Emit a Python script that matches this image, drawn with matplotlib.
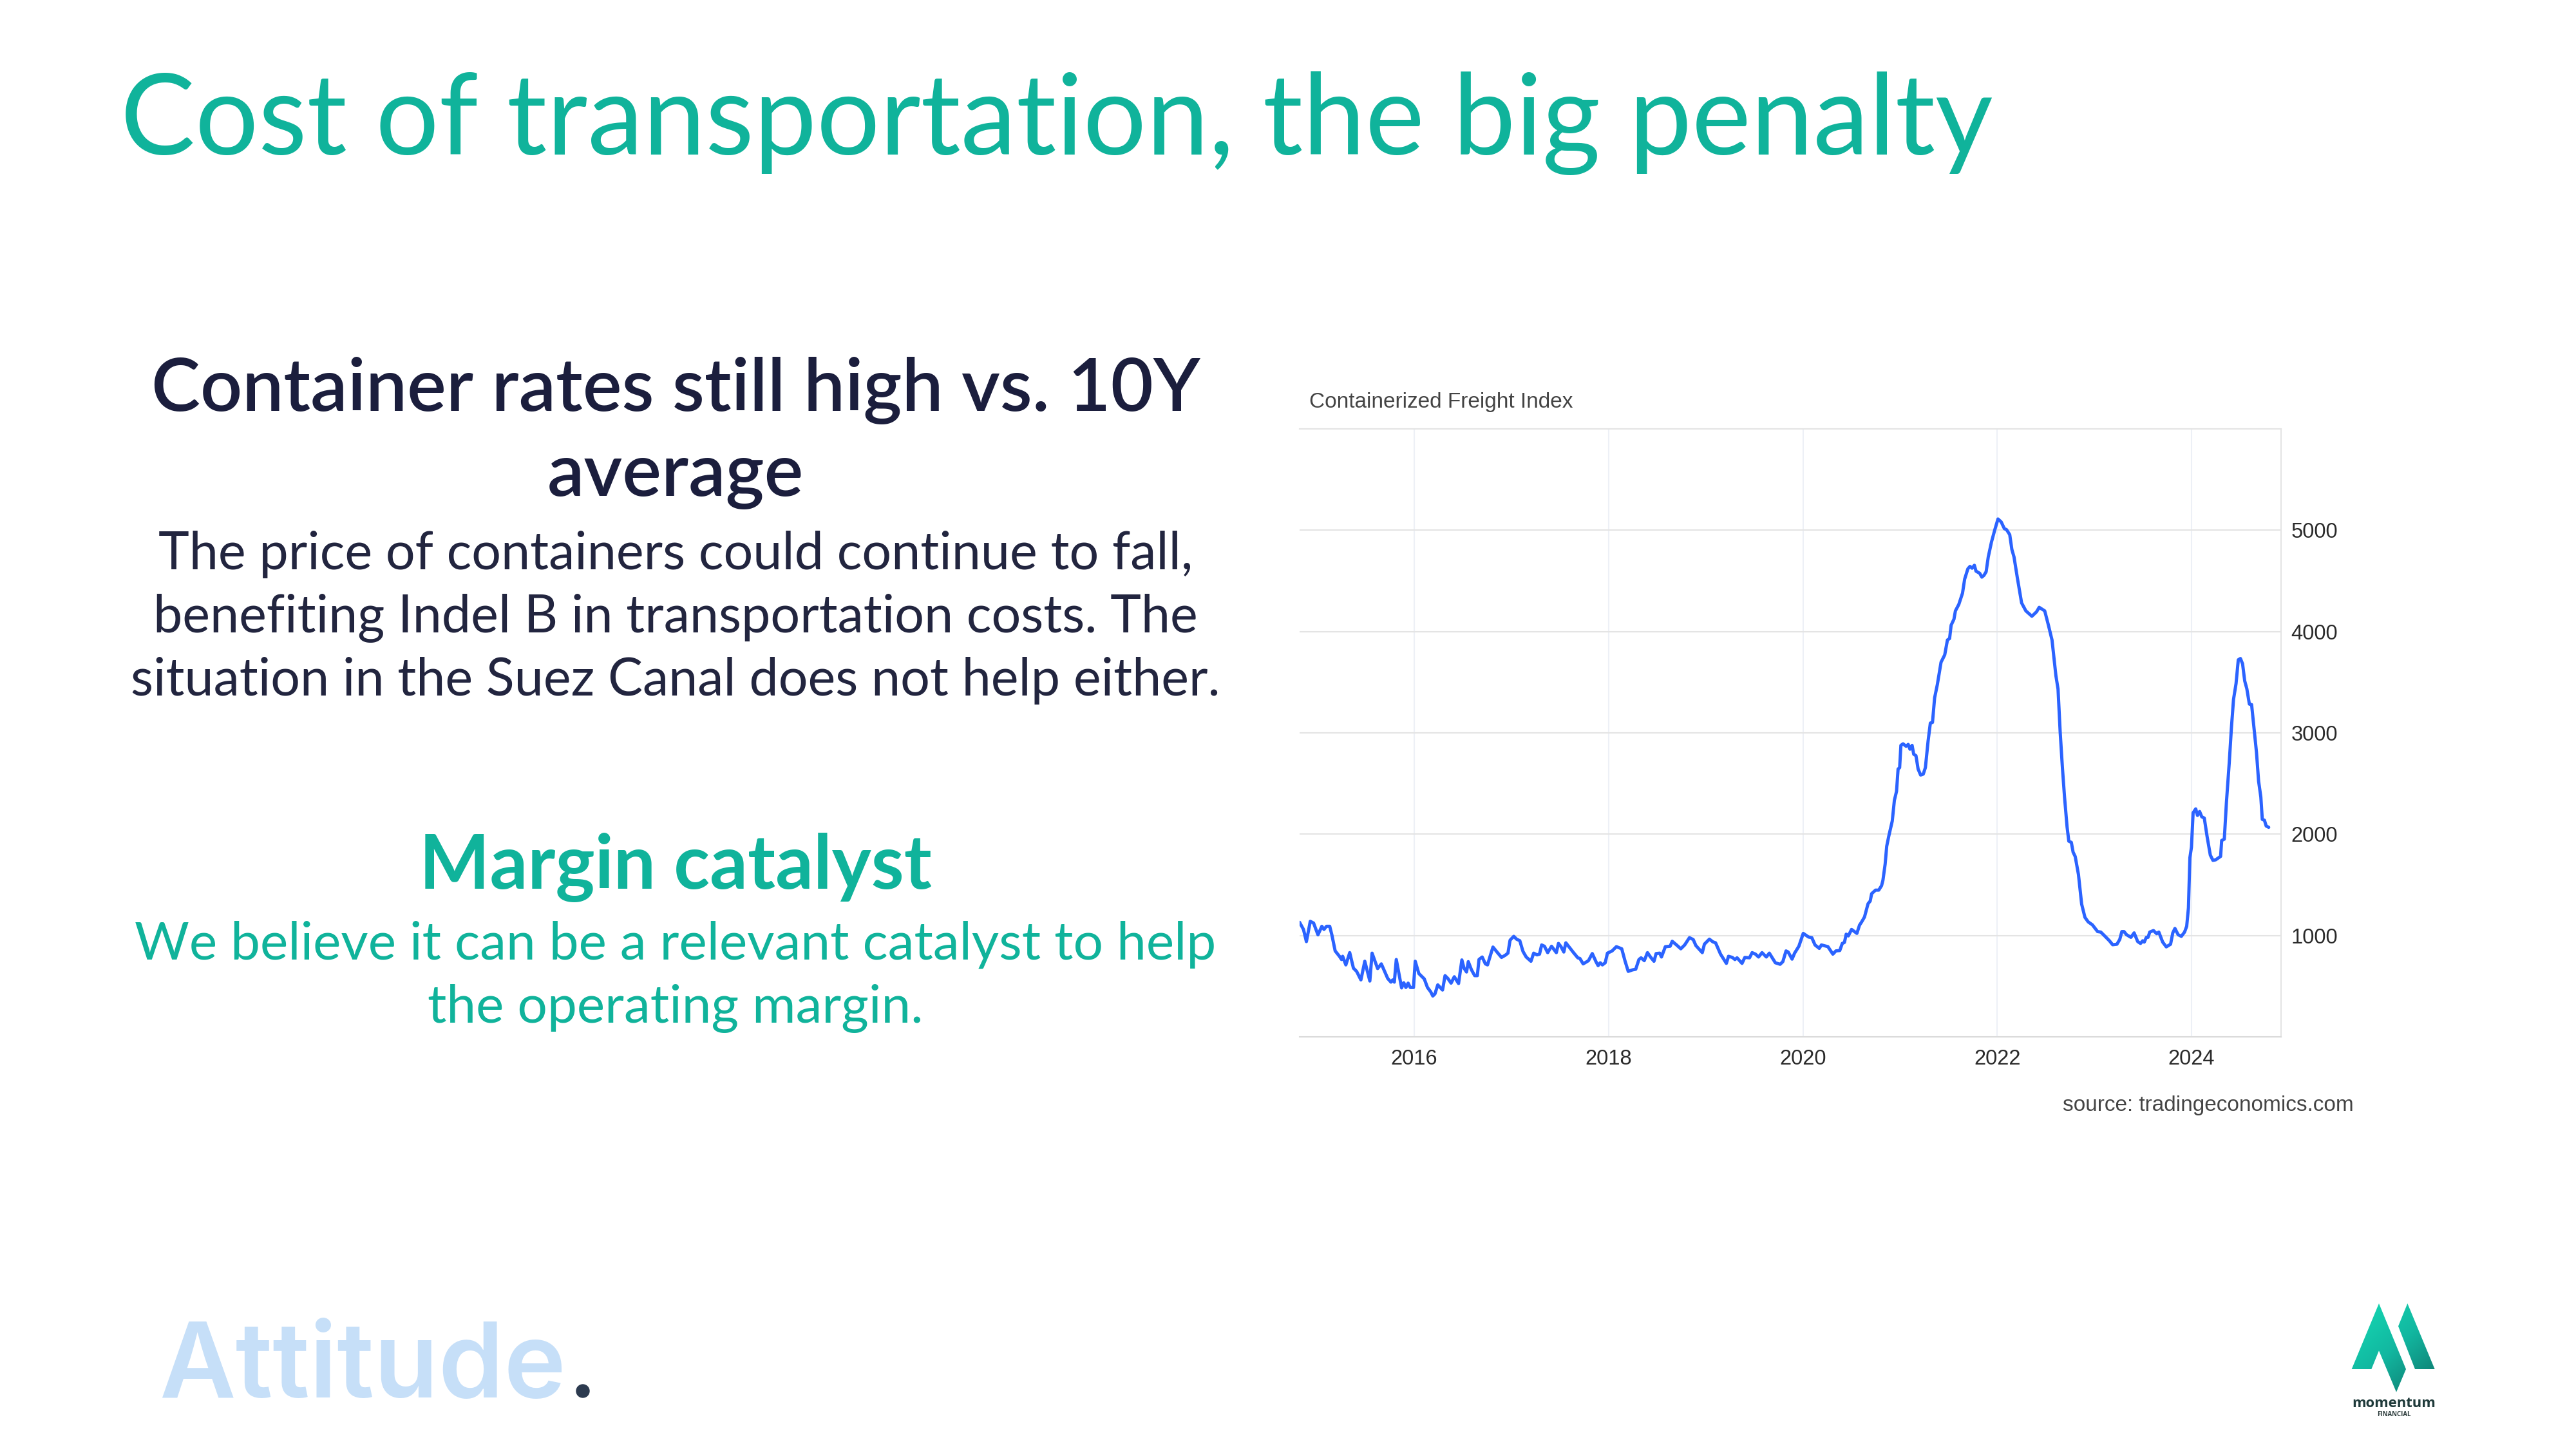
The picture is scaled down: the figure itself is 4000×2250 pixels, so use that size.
import matplotlib
matplotlib.use("Agg")
import matplotlib.pyplot as plt
import numpy as np
from matplotlib.patches import Polygon, Circle
from matplotlib.colors import LinearSegmentedColormap

# ---------------- data ----------------
years = [
    2014.82, 2014.86, 2014.89, 2014.93, 2014.964, 2015.009, 2015.049, 2015.071, 2015.097, 2015.130,
    2015.152, 2015.186, 2015.230, 2015.252, 2015.263, 2015.296, 2015.336, 2015.374, 2015.407, 2015.451,
    2015.491, 2015.543, 2015.566, 2015.594, 2015.623, 2015.661, 2015.727, 2015.760, 2015.778, 2015.795,
    2015.815, 2015.870, 2015.892, 2015.914, 2015.937, 2015.959, 2015.992, 2016.010, 2016.047, 2016.103,
    2016.136, 2016.169, 2016.191, 2016.213, 2016.242, 2016.291, 2016.317, 2016.346, 2016.379, 2016.412,
    2016.456, 2016.490, 2016.512, 2016.538, 2016.556, 2016.589, 2016.622, 2016.649, 2016.666, 2016.699,
    2016.732, 2016.754, 2016.777, 2016.810, 2016.861, 2016.898, 2016.936, 2016.964, 2016.986, 2017.024,
    2017.053, 2017.086, 2017.119, 2017.152, 2017.201, 2017.229, 2017.263, 2017.289, 2017.311, 2017.340,
    2017.373, 2017.413, 2017.462, 2017.484, 2017.510, 2017.539, 2017.560, 2017.605, 2017.639, 2017.683,
    2017.705, 2017.738, 2017.793, 2017.832, 2017.870, 2017.892, 2017.914, 2017.936, 2017.965, 2017.988,
    2018.036, 2018.080, 2018.135, 2018.168, 2018.202, 2018.246, 2018.279, 2018.312, 2018.334, 2018.367,
    2018.400, 2018.434, 2018.467, 2018.489, 2018.526, 2018.544, 2018.584, 2018.633, 2018.655, 2018.699,
    2018.743, 2018.783, 2018.832, 2018.871, 2018.898, 2018.964, 2018.986, 2019.037, 2019.074, 2019.101,
    2019.152, 2019.212, 2019.234, 2019.273, 2019.300, 2019.322, 2019.373, 2019.402, 2019.450, 2019.477,
    2019.512, 2019.543, 2019.579, 2019.623, 2019.654, 2019.716, 2019.765, 2019.793, 2019.826, 2019.848,
    2019.888, 2019.914, 2019.958, 2020.003, 2020.058, 2020.091, 2020.124, 2020.168, 2020.190, 2020.257,
    2020.308, 2020.339, 2020.379, 2020.405, 2020.427, 2020.445, 2020.467, 2020.500, 2020.555, 2020.582,
    2020.604, 2020.633, 2020.670, 2020.692, 2020.707, 2020.747, 2020.780, 2020.809, 2020.823, 2020.846,
    2020.862, 2020.884, 2020.919, 2020.941, 2020.963, 2020.979, 2020.995, 2021.008, 2021.030, 2021.061,
    2021.083, 2021.101, 2021.123, 2021.140, 2021.163, 2021.185, 2021.211, 2021.238, 2021.260, 2021.288,
    2021.311, 2021.333, 2021.355, 2021.383, 2021.421, 2021.459, 2021.487, 2021.509, 2021.525, 2021.554,
    2021.569, 2021.604, 2021.642, 2021.664, 2021.697, 2021.719, 2021.741, 2021.764, 2021.781, 2021.819,
    2021.841, 2021.863, 2021.885, 2021.907, 2021.940, 2021.973, 2022.007, 2022.040, 2022.073, 2022.095,
    2022.128, 2022.150, 2022.172, 2022.206, 2022.250, 2022.294, 2022.356, 2022.404, 2022.431, 2022.488,
    2022.526, 2022.563, 2022.603, 2022.625, 2022.647, 2022.670, 2022.692, 2022.718, 2022.736, 2022.762,
    2022.780, 2022.802, 2022.835, 2022.868, 2022.902, 2022.935, 2022.979, 2023.032, 2023.065, 2023.109,
    2023.154, 2023.187, 2023.231, 2023.260, 2023.282, 2023.304, 2023.330, 2023.375, 2023.408, 2023.445,
    2023.474, 2023.496, 2023.512, 2023.534, 2023.551, 2023.569, 2023.607, 2023.640, 2023.662, 2023.702,
    2023.739, 2023.783, 2023.806, 2023.828, 2023.861, 2023.894, 2023.927, 2023.949, 2023.967, 2023.982,
    2023.998, 2024.015, 2024.042, 2024.060, 2024.082, 2024.104, 2024.130, 2024.159, 2024.192, 2024.219,
    2024.247, 2024.298, 2024.309, 2024.336, 2024.358, 2024.387, 2024.409, 2024.431, 2024.457, 2024.480,
    2024.502, 2024.524, 2024.546, 2024.568, 2024.594, 2024.617, 2024.645, 2024.667, 2024.689, 2024.712,
    2024.727, 2024.749, 2024.767, 2024.793,
]
index_values = [
    1130, 1060, 940, 1140, 1123, 1007, 1091, 1060, 1091, 1091,
    1007, 848, 795, 763, 795, 710, 831, 678, 646, 562,
    746, 551, 826, 752, 674, 720, 576, 540, 562, 540,
    763, 483, 534, 487, 530, 487, 487, 746, 625, 572,
    487, 445, 403, 424, 513, 462, 604, 576, 530, 593,
    526, 759, 678, 640, 742, 661, 604, 604, 763, 788,
    720, 710, 784, 886, 826, 784, 805, 826, 954, 992,
    964, 949, 843, 788, 746, 826, 809, 816, 907, 894,
    831, 894, 831, 922, 890, 837, 928, 873, 831, 780,
    773, 720, 752, 822, 742, 703, 731, 710, 731, 826,
    848, 890, 869, 752, 646, 661, 667, 763, 780, 752,
    831, 784, 746, 822, 826, 788, 890, 894, 943, 907,
    869, 907, 979, 960, 901, 831, 915, 964, 937, 928,
    816, 725, 795, 784, 763, 780, 725, 784, 780, 831,
    816, 788, 831, 788, 826, 731, 716, 742, 848, 837,
    767, 826, 894, 1021, 985, 979, 907, 873, 907, 890,
    816, 848, 852, 922, 932, 1013, 996, 1060, 1021, 1102,
    1134, 1182, 1314, 1340, 1413, 1448, 1448, 1492, 1545, 1706,
    1881, 1984, 2130, 2335, 2423, 2643, 2657, 2877, 2892, 2868,
    2886, 2839, 2877, 2789, 2775, 2643, 2584, 2593, 2657, 2921,
    3097, 3103, 3346, 3477, 3697, 3770, 3917, 3931, 4063, 4122,
    4204, 4268, 4379, 4517, 4619, 4643, 4625, 4654, 4596, 4575,
    4537, 4555, 4590, 4736, 4883, 5000, 5111, 5082, 5015, 5006,
    4956, 4810, 4736, 4532, 4283, 4204, 4151, 4195, 4239, 4204,
    4063, 3917, 3565, 3433, 3009, 2657, 2365, 2072, 1931, 1919,
    1823, 1779, 1603, 1310, 1179, 1135, 1105, 1039, 1034, 992,
    948, 909, 914, 961, 1039, 1039, 1008, 982, 1026, 940,
    922, 948, 935, 982, 982, 1034, 1049, 1018, 1034, 935,
    888, 914, 1026, 1070, 1008, 992, 1034, 1091, 1273, 1768,
    1872, 2211, 2250, 2185, 2224, 2172, 2159, 1977, 1794, 1742,
    1747, 1781, 1938, 1951, 2315, 2706, 3047, 3331, 3487, 3721,
    3734, 3682, 3513, 3435, 3284, 3279, 3018, 2810, 2523, 2367,
    2146, 2138, 2081, 2068,
]
x_ticks = [2016, 2018, 2020, 2022, 2024]
x_tick_labels = ["2016", "2018", "2020", "2022", "2024"]
y_ticks = [1000, 2000, 3000, 4000, 5000]
y_tick_labels = ["1000", "2000", "3000", "4000", "5000"]

title_text = "Cost of transportation, the big penalty"
sub_lines = ["Container rates still high vs. 10Y", "average"]
body_lines = ["The price of containers could continue to fall,",
              "benefiting Indel B in transportation costs. The",
              "situation in the Suez Canal does not help either."]
catalyst_title = "Margin catalyst"
catalyst_lines = ["We believe it can be a relevant catalyst to help",
                  "the operating margin."]
chart_title = "Containerized Freight Index"
source_text = "source: tradingeconomics.com"

# ---------------- figure ----------------
W, H = 4000, 2250
fig = plt.figure(figsize=(W / 100, H / 100), dpi=100)
fig.patch.set_facecolor("white")
renderer = fig.canvas.get_renderer()

# overlay axes in pixel coordinates (y downward)
ov = fig.add_axes([0, 0, 1, 1])
ov.set_xlim(0, W)
ov.set_ylim(H, 0)
ov.axis("off")

TEAL = "#10B39B"
NAVY = "#1B1E3D"
SLIDE_FONT = ["Lato", "DejaVu Sans"]


def fit_text(x, y, s, width, ha="left", va="baseline", **kw):
    t = ov.text(x, y, s, ha=ha, va=va, **kw)
    bb = t.get_window_extent(renderer=renderer)
    t.set_fontsize(t.get_fontsize() * width / bb.width)
    return t


def text_at(x, y, s, size, ha="center", va="baseline", **kw):
    return ov.text(x, y, s, ha=ha, va=va, fontsize=size, **kw)


# title
fit_text(187, 240, title_text, 2907, color=TEAL, family=SLIDE_FONT,
         fontweight="normal", fontsize=120)

CX = 1049
# subheading
t = fit_text(CX, 638, sub_lines[0], 1630, ha="center", color=NAVY,
             family=SLIDE_FONT, fontweight="semibold", fontsize=70)
fs_sub = t.get_fontsize()
text_at(CX, 770, sub_lines[1], fs_sub, color=NAVY, family=SLIDE_FONT,
        fontweight="semibold")

# body
t = fit_text(CX, 1080, body_lines[2], 1689, ha="center", color="#22253F",
             family=SLIDE_FONT, fontweight="normal", fontsize=50)
fs_body = t.get_fontsize()
for yb, s in zip([884, 982], body_lines[:2]):
    text_at(CX, yb, s, fs_body, color="#22253F", family=SLIDE_FONT,
            fontweight="normal")

# catalyst
fit_text(CX, 1380, catalyst_title, 796, ha="center", color=TEAL,
         family=SLIDE_FONT, fontweight="bold", fontsize=70)
t = fit_text(CX, 1489, catalyst_lines[0], 1679, ha="center", color=TEAL,
             family=SLIDE_FONT, fontweight="normal", fontsize=50)
fs_cat = t.get_fontsize()
text_at(CX, 1588, catalyst_lines[1], fs_cat, color=TEAL, family=SLIDE_FONT,
        fontweight="normal")

# chart title and source
fit_text(2033, 624, chart_title, 409, va="center", color="#444444",
         family=["Liberation Sans", "DejaVu Sans"], fontsize=22)
fit_text(3655, 1717, source_text, 453, ha="right", va="center", color="#444444",
         family=["Liberation Sans", "DejaVu Sans"], fontsize=23)

# Attitude logo
fit_text(247, 2170, "Attitude", 632, color="#C6DFF8",
         family=["Inter", "Open Sans", "DejaVu Sans"], fontweight="semibold",
         fontsize=110)
ov.add_patch(Circle((905, 2160), 10, color="#2C3A4F", zorder=3))

# momentum logo (pixel coordinates, from 3x crop at 3650,2020)
def lp(pts):
    return [(3650 + a / 3.0, 2020 + b / 3.0) for a, b in pts]

left_piece = lp([(132, 12), (5, 318), (97, 318), (132, 232), (213, 425), (258, 318)])
right_piece = lp([(265, 12), (222, 118), (300, 318), (392, 318)])
cmap = LinearSegmentedColormap.from_list("m", ["#15DDB6", "#12B7A0", "#0E6F66"])
gy, gx = np.mgrid[0:1:200j, 0:1:200j]
grad = 0.55 * gy + 0.45 * gx
x0, x1, y0, y1 = 3650, 3785, 2022, 2165
for poly in (left_piece, right_piece):
    patch = Polygon(poly, closed=True, facecolor="none", edgecolor="none")
    ov.add_patch(patch)
    im = ov.imshow(grad, extent=[x0, x1, y1, y0], cmap=cmap, aspect="auto",
                   interpolation="bilinear", zorder=2)
    im.set_clip_path(patch)
ov.set_xlim(0, W)
ov.set_ylim(H, 0)
fit_text(3652, 2185, "momentum", 130, color="#1F3A3A",
         family=["Open Sans", "DejaVu Sans"], fontweight="bold", fontsize=20)
fit_text(3717, 2199, "FINANCIAL", 52, ha="center", color="#2B3B3B",
         family=["Open Sans", "DejaVu Sans"], fontweight="bold", fontsize=8)

# ---------------- chart ----------------
ax_left, ax_right, ax_top, ax_bottom = 2018, 3542, 666, 1610
ax = fig.add_axes([ax_left / W, 1 - ax_bottom / H, (ax_right - ax_left) / W,
                   (ax_bottom - ax_top) / H])
ax.set_facecolor("white")
ax.plot(years, index_values, color="#2B63FF", lw=3.6, solid_joinstyle="round",
        solid_capstyle="round", zorder=3)
ax.set_xlim(2014.82, 2024.92)
ax.set_ylim(0, 6000)
ax.set_xticks(x_ticks)
ax.set_xticklabels(x_tick_labels)
ax.set_yticks(y_ticks)
ax.set_yticklabels(y_tick_labels)
ax.yaxis.tick_right()
ax.tick_params(axis="both", length=0, labelsize=23.5, labelcolor="#2A2A2A")
ax.tick_params(axis="y", pad=11)
ax.tick_params(axis="x", pad=14)
for lab in ax.get_xticklabels() + ax.get_yticklabels():
    lab.set_family(["Liberation Sans", "DejaVu Sans"])
ax.grid(axis="y", color="#E4E4E4", lw=1.5, zorder=0)
ax.grid(axis="x", color="#EDF0F6", lw=1.5, zorder=0)
ax.set_axisbelow(True)
ax.spines["left"].set_visible(False)
ax.spines["top"].set_color("#E4E4E4")
ax.spines["top"].set_linewidth(1.5)
ax.spines["right"].set_color("#E4E4E4")
ax.spines["right"].set_linewidth(1.5)
ax.spines["bottom"].set_color("#DADADA")
ax.spines["bottom"].set_linewidth(1.5)

fig.savefig("out.png", dpi=100, facecolor="white")
